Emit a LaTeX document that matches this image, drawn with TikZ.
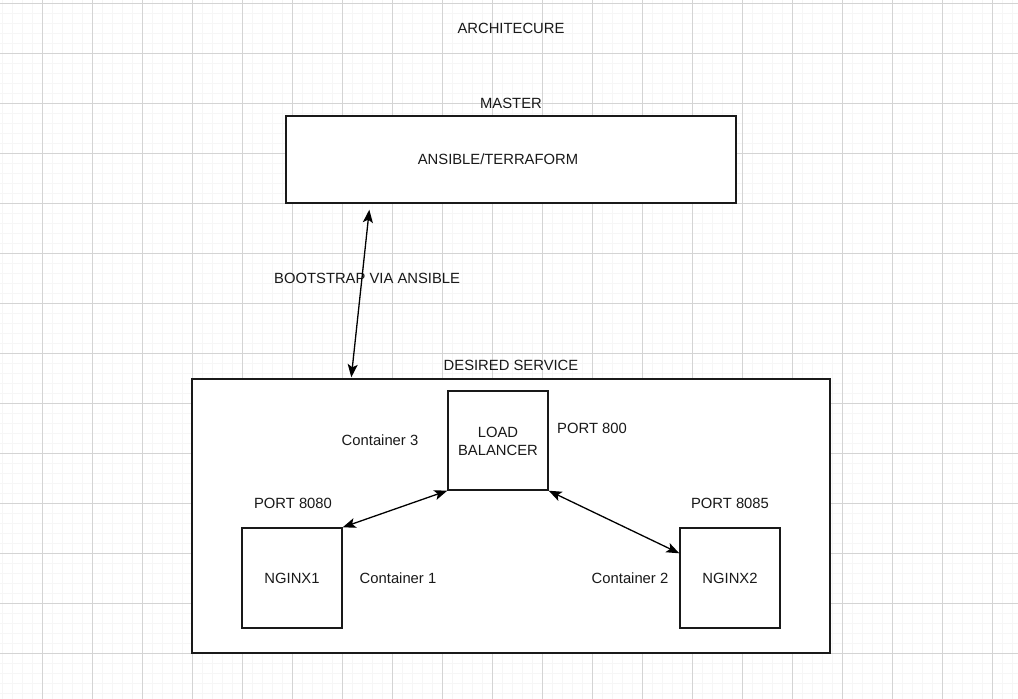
\documentclass[tikz,border=0pt]{standalone}
\usepackage{fontspec}
\setmainfont{Liberation Sans}
\usetikzlibrary{arrows.meta}
\begin{document}
\begin{tikzpicture}[x=1pt,y=-1pt,
  box/.style={draw=black!90,line width=1.4pt,fill=white,inner sep=0pt},
  lbl/.style={font=\fontsize{14.8}{18}\selectfont,text=black!90,inner sep=0pt,align=center},
  tip/.style={Stealth[length=13pt,width=10pt,inset=3pt]},
  arr/.style={line width=1.3pt,{Stealth[length=13pt,width=10pt,inset=3pt]}-{Stealth[length=13pt,width=10pt,inset=3pt]}}]
\useasboundingbox (0,0) rectangle (1018,699);
\fill[white] (0,0) rectangle (1018,699);
% minor grid
\foreach \x in {2,12,...,1018} \draw[black!3.5,line width=0.8pt] (\x,0) -- (\x,699);
\foreach \y in {3,13,...,699} \draw[black!3.5,line width=0.8pt] (0,\y) -- (1018,\y);
% major grid
\foreach \x in {42,92,...,1018} \draw[black!17,line width=1pt] (\x,0) -- (\x,699);
\foreach \y in {3,53,...,699} \draw[black!17,line width=1pt] (0,\y) -- (1018,\y);

\node[box,minimum width=450pt,minimum height=87pt] (master) at (511,159.5) {};
\node[box,minimum width=638pt,minimum height=274pt] (service) at (511,516) {};
\node[box,minimum width=100pt,minimum height=99pt] (lb) at (498,440.5) {};
\node[box,minimum width=100pt,minimum height=100pt] (n1) at (292,578) {};
\node[box,minimum width=100pt,minimum height=100pt] (n2) at (730,578) {};

\node[lbl] (title) at (511,28) {ARCHITECURE};
\node[lbl] (mlbl) at (511,103) {MASTER};
\node[lbl] (ansible) at (498,159) {ANSIBLE/TERRAFORM};
\node[lbl,anchor=west] (boot) at (274,278) {BOOTSTRAP VIA ANSIBLE};
\node[lbl] (slbl) at (511,365) {DESIRED SERVICE};
\node[lbl] (lbtext) at (498,441) {LOAD\\BALANCER};
\node[lbl] (c3) at (380,440) {Container 3};
\node[lbl,anchor=west] (p800) at (557,428) {PORT 800};
\node[lbl] (p8080) at (293,503) {PORT 8080};
\node[lbl] (p8085) at (730,503) {PORT 8085};
\node[lbl] (n1t) at (292,578) {NGINX1};
\node[lbl] (n2t) at (730,578) {NGINX2};
\node[lbl] (c1) at (398,578) {Container 1};
\node[lbl] (c2) at (630,578) {Container 2};

\draw[arr] ([xshift=84pt,yshift=-6pt]master.south west) -- ([xshift=160pt,yshift=1pt]service.north west);
\draw[arr] (lb.south west) -- (n1.north east);
\draw[arr] (lb.south east) -- ([yshift=-26pt]n2.north west);
\end{tikzpicture}
\end{document}
